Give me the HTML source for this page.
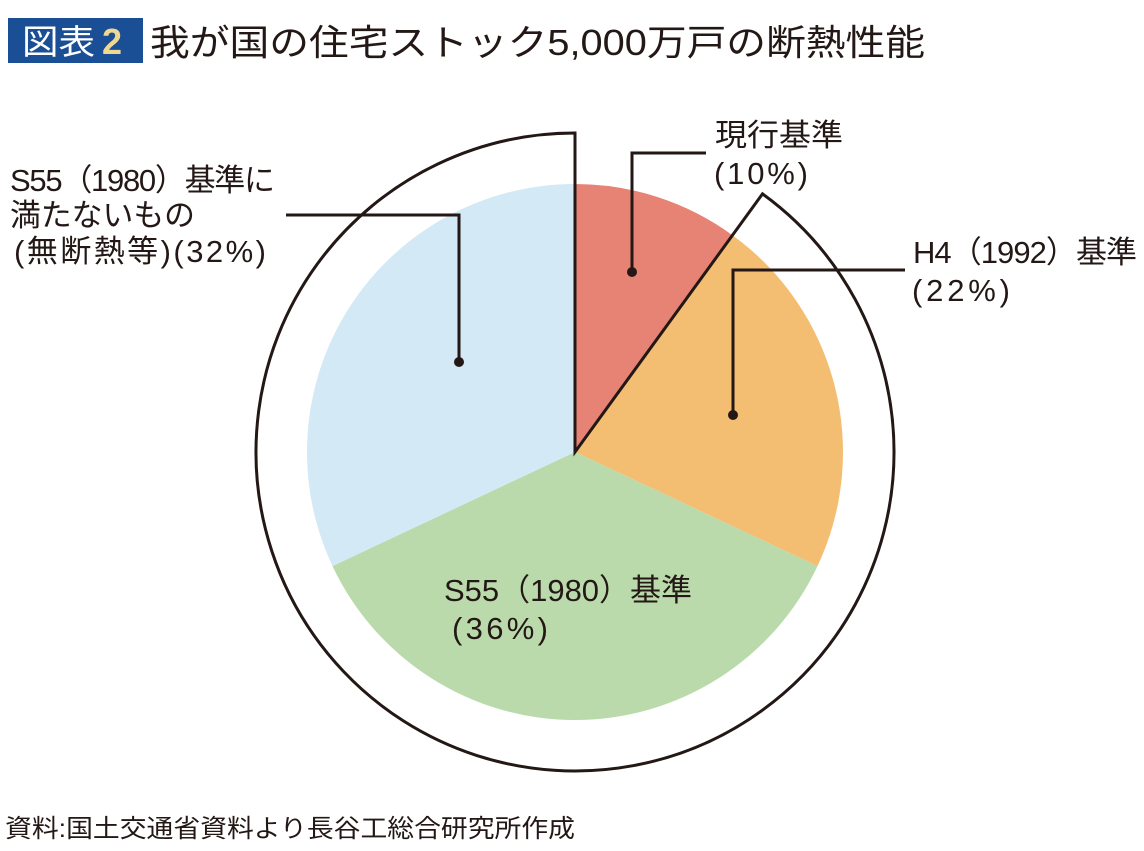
<!DOCTYPE html>
<html><head><meta charset="utf-8"><style>
html,body{margin:0;padding:0;background:#fff;}
svg{display:block;}
text{font-family:"Liberation Sans","Noto Sans CJK JP",sans-serif;fill:#231815;}
</style></head><body>
<svg width="1144" height="851" viewBox="0 0 1144 851" xmlns="http://www.w3.org/2000/svg">
<rect x="8" y="18" width="135" height="45" fill="#1a4f96"/>
<text x="22" y="54" font-size="34" style="fill:#fff" textLength="73" lengthAdjust="spacingAndGlyphs">図表</text>
<text x="102" y="54" font-size="36" style="fill:#f0d890" font-weight="bold">2</text>
<text x="150" y="55" font-size="36" textLength="775" lengthAdjust="spacingAndGlyphs">我が国の住宅ストック5,000万戸の断熱性能</text>

<g transform="translate(575,452)">
<path d="M0,0 L0,-268 A268,268 0 0 1 157.5,-216.8 Z" fill="#e68374"/>
<path d="M0,0 L157.5,-216.8 A268,268 0 0 1 242.5,114.1 Z" fill="#f3bd72"/>
<path d="M0,0 L242.5,114.1 A268,268 0 0 1 -242.5,114.1 Z" fill="#badaab"/>
<path d="M0,0 L-242.5,114.1 A268,268 0 0 1 0,-268 Z" fill="#d3e9f5"/>
<path d="M0,0 L187.5,-258.1 A319,319 0 1 1 0,-319 Z" fill="none" stroke="#231815" stroke-width="3" stroke-linejoin="miter"/>
</g>

<g stroke="#231815" stroke-width="3" fill="none">
<polyline points="706,153 632,153 632,272"/>
<polyline points="905,270 733,270 733,415"/>
<polyline points="286,215 459,215 459,362"/>
</g>
<g fill="#231815">
<circle cx="632" cy="272" r="5"/>
<circle cx="733" cy="415" r="5"/>
<circle cx="459" cy="362" r="5"/>
</g>

<text x="715" y="146" font-size="31" textLength="128" lengthAdjust="spacingAndGlyphs">現行基準</text>
<text x="714" y="184" font-size="31" textLength="94" lengthAdjust="spacing">(10%)</text>
<text x="913" y="263" font-size="31" textLength="224" lengthAdjust="spacing">H4（1992）基準</text>
<text x="912" y="301" font-size="31" textLength="98" lengthAdjust="spacing">(22%)</text>
<text x="10" y="191" font-size="31" textLength="265" lengthAdjust="spacing">S55（1980）基準に</text>
<text x="10" y="226" font-size="31" textLength="185" lengthAdjust="spacingAndGlyphs">満たないもの</text>
<text x="14" y="262" font-size="31" textLength="252" lengthAdjust="spacing">(無断熱等)(32%)</text>
<text x="444" y="601" font-size="31" textLength="248" lengthAdjust="spacing">S55（1980）基準</text>
<text x="452" y="639" font-size="31" textLength="96" lengthAdjust="spacing">(36%)</text>
<text x="5" y="837" font-size="25" textLength="570" lengthAdjust="spacingAndGlyphs">資料:国土交通省資料より長谷工総合研究所作成</text>
</svg>
</body></html>
